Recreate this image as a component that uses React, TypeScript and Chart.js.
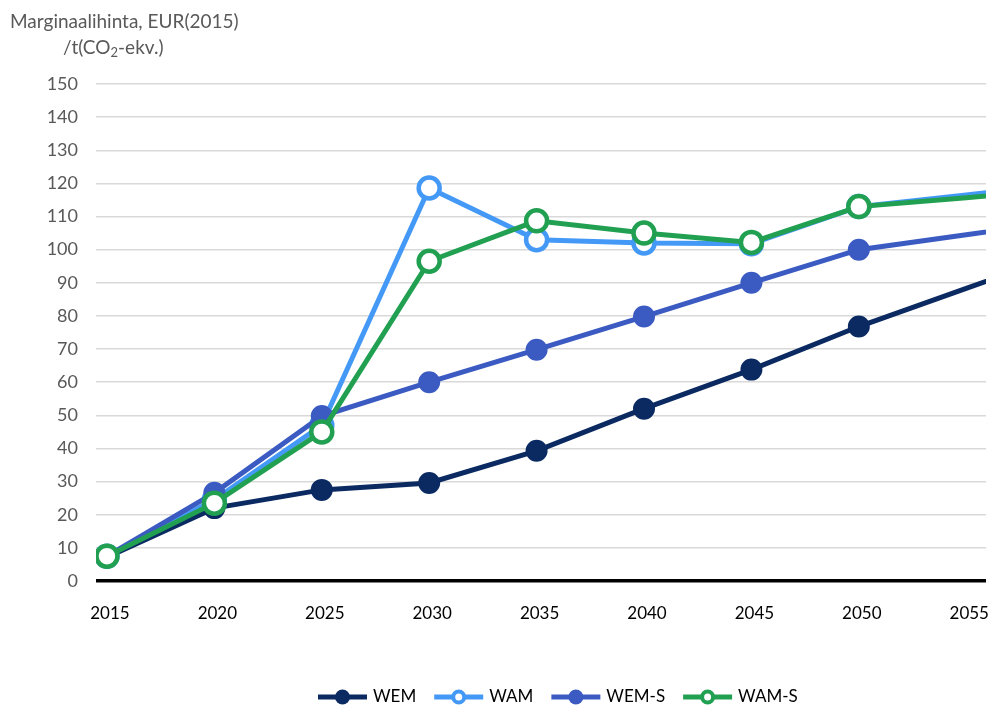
import React, { useEffect, useRef } from "react";
import { Chart, registerables } from "chart.js";

Chart.register(...registerables);

const years = [2015, 2020, 2025, 2030, 2035, 2040, 2045, 2050, 2055, 2060];
const wem = [7.2, 22, 27.5, 29.6, 39.3, 52, 63.8, 76.8, 88.3, 99.8];
const wam = [7.5, 24.5, 47, 118.6, 103, 102, 101.8, 113, 116.5, 120];
const wemS = [7.5, 26.6, 49.8, 60, 69.8, 79.8, 90, 100, 104.5, 109];
const wamS = [7.5, 23.5, 45, 96.5, 108.7, 105, 102.2, 113, 115.7, 118.4];
const xTicks = [2015, 2020, 2025, 2030, 2035, 2040, 2045, 2050, 2055];
const seriesNames = ["WEM", "WAM", "WEM-S", "WAM-S"];

const FONT = "Lato, 'Open Sans', sans-serif";

export default function App() {
  const ref = useRef<HTMLCanvasElement>(null);
  useEffect(() => {
    const colors = ["#0b2a62", "#4499f7", "#3b5bc2", "#22a052"];
    const hollow = [false, true, false, true];
    const values = [wem, wam, wemS, wamS];
    const lastIdx = years.length - 2;
    const datasets = seriesNames.map((name, i) => ({
      label: name,
      data: years.map((y, j) => ({ x: y, y: values[i][j] })),
      borderColor: colors[i],
      backgroundColor: colors[i],
      borderWidth: 5,
      pointRadius: years.map((_, j) => (j >= lastIdx ? 0 : hollow[i] ? 10.5 : 10)),
      pointHoverRadius: years.map((_, j) => (j >= lastIdx ? 0 : hollow[i] ? 10.5 : 10)),
      pointBackgroundColor: hollow[i] ? "#ffffff" : colors[i],
      pointBorderColor: colors[i],
      pointBorderWidth: hollow[i] ? 4.5 : 2,
      tension: 0,
      order: 4 - i,
    }));

    const decorPlugin = {
      id: "decor",
      afterDraw(chart: any) {
        const ctx = chart.ctx;
        ctx.save();
        // axis title
        ctx.fillStyle = "#595959";
        ctx.textBaseline = "middle";
        ctx.textAlign = "left";
        ctx.font = `19px ${FONT}`;
        ctx.fillText("Marginaalihinta, EUR(2015)", 10, 22);
        let x = 63;
        const y = 48;
        ctx.fillText("/t(CO", x, y);
        x += ctx.measureText("/t(CO").width;
        ctx.font = `13px ${FONT}`;
        ctx.fillText("2", x, y + 5);
        x += ctx.measureText("2").width;
        ctx.font = `19px ${FONT}`;
        ctx.fillText("-ekv.)", x, y);
        // x tick labels
        const xs = chart.scales.x;
        ctx.fillStyle = "#000000";
        ctx.textAlign = "center";
        ctx.font = `17px ${FONT}`;
        const labelY = chart.chartArea.bottom + 33;
        for (const t of xTicks) {
          ctx.fillText(String(t), xs.getPixelForValue(t) + 3, labelY);
        }
        // legend
        ctx.textAlign = "left";
        let lx = 318;
        const ly = 697;
        for (let i = 0; i < seriesNames.length; i++) {
          const c = colors[i];
          ctx.strokeStyle = c;
          ctx.lineWidth = 5;
          ctx.beginPath();
          ctx.moveTo(lx, ly);
          ctx.lineTo(lx + 49, ly);
          ctx.stroke();
          ctx.beginPath();
          if (hollow[i]) {
            ctx.arc(lx + 24.5, ly, 5.5, 0, Math.PI * 2);
            ctx.fillStyle = "#ffffff";
            ctx.fill();
            ctx.lineWidth = 4;
            ctx.stroke();
          } else {
            ctx.arc(lx + 24.5, ly, 7.5, 0, Math.PI * 2);
            ctx.fillStyle = c;
            ctx.fill();
          }
          ctx.fillStyle = "#000000";
          ctx.fillText(seriesNames[i], lx + 55, ly);
          lx += 55 + ctx.measureText(seriesNames[i]).width + 18;
        }
        ctx.restore();
      },
    };

    const chart = new Chart(ref.current!, {
      type: "line",
      data: { datasets },
      plugins: [decorPlugin],
      options: {
        responsive: false,
        animation: false,
        layout: { autoPadding: false, padding: { top: 84, right: 9, left: 0, bottom: 119 } },
        plugins: {
          tooltip: { enabled: false },
          title: { display: false },
          legend: { display: false },
        },
        scales: {
          x: {
            type: "linear",
            min: 2014.49,
            max: 2055.92,
            ticks: { display: false },
            grid: { display: false },
            border: { display: false },
          },
          y: {
            min: 0,
            max: 150,
            afterFit: (axis: any) => {
              axis.width = 96;
              axis.paddingTop = 0;
              axis.paddingBottom = 0;
            },
            ticks: {
              stepSize: 10,
              color: "#595959",
              font: { family: FONT, size: 18 },
              padding: 18,
            },
            grid: {
              drawTicks: false,
              color: (c: any) => (c.tick && c.tick.value === 0 ? "#000000" : "#d9d9d9"),
              lineWidth: (c: any) => (c.tick && c.tick.value === 0 ? 3.5 : 1.5),
            },
            border: { display: false },
          },
        },
      },
    });
    return () => chart.destroy();
  }, []);
  return (
    <div style={{ position: "fixed", left: 0, top: 0, width: 995, height: 708, background: "#fff" }}>
      <canvas ref={ref} width={995} height={708} />
    </div>
  );
}
